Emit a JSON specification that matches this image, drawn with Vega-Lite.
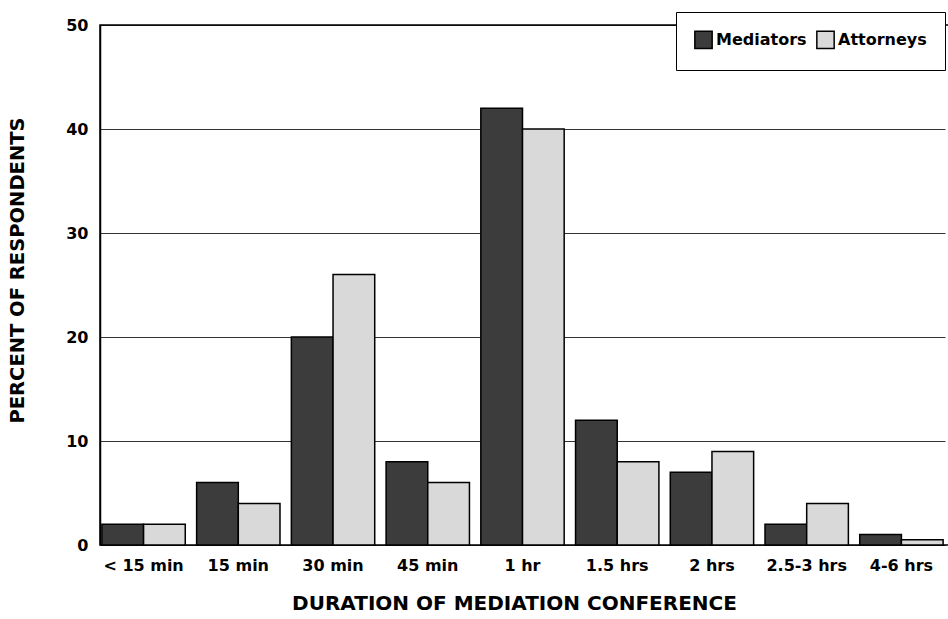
{
  "$schema": "https://vega.github.io/schema/vega-lite/v6.json",
  "width": 850,
  "height": 520,
  "autosize": {"type": "none"},
  "padding": {"left": 100, "top": 25, "right": 0, "bottom": 74},
  "background": "white",
  "config": {
    "font": "DejaVu Sans",
    "view": {"stroke": "black", "strokeWidth": 1.5},
    "axis": {"labelFont": "DejaVu Sans", "titleFont": "DejaVu Sans", "labelColor": "black", "titleColor": "black"},
    "legend": {"labelFont": "DejaVu Sans"}
  },
  "data": {
    "values": [
      {"duration": "< 15 min", "group": "Mediators", "percent": 2},
      {"duration": "< 15 min", "group": "Attorneys", "percent": 2},
      {"duration": "15 min", "group": "Mediators", "percent": 6},
      {"duration": "15 min", "group": "Attorneys", "percent": 4},
      {"duration": "30 min", "group": "Mediators", "percent": 20},
      {"duration": "30 min", "group": "Attorneys", "percent": 26},
      {"duration": "45 min", "group": "Mediators", "percent": 8},
      {"duration": "45 min", "group": "Attorneys", "percent": 6},
      {"duration": "1 hr", "group": "Mediators", "percent": 42},
      {"duration": "1 hr", "group": "Attorneys", "percent": 40},
      {"duration": "1.5 hrs", "group": "Mediators", "percent": 12},
      {"duration": "1.5 hrs", "group": "Attorneys", "percent": 8},
      {"duration": "2 hrs", "group": "Mediators", "percent": 7},
      {"duration": "2 hrs", "group": "Attorneys", "percent": 9},
      {"duration": "2.5-3 hrs", "group": "Mediators", "percent": 2},
      {"duration": "2.5-3 hrs", "group": "Attorneys", "percent": 4},
      {"duration": "4-6 hrs", "group": "Mediators", "percent": 1},
      {"duration": "4-6 hrs", "group": "Attorneys", "percent": 0.5}
    ]
  },
  "mark": {"type": "bar", "stroke": "black", "strokeWidth": 1.5},
  "encoding": {
    "x": {
      "field": "duration",
      "type": "nominal",
      "sort": ["< 15 min", "15 min", "30 min", "45 min", "1 hr", "1.5 hrs", "2 hrs", "2.5-3 hrs", "4-6 hrs"],
      "scale": {"paddingInner": 0.12, "paddingOuter": 0.02, "range": [0, 845]},
      "axis": {
        "title": "DURATION OF MEDIATION CONFERENCE",
        "titleFontSize": 20,
        "titleFontWeight": "bold",
        "titlePadding": 20,
        "titleX": 414,
        "labelAngle": 0,
        "labelFontSize": 16,
        "labelFontWeight": "bold",
        "labelPadding": 12,
        "ticks": false,
        "domain": false
      }
    },
    "xOffset": {
      "field": "group",
      "type": "nominal",
      "sort": ["Mediators", "Attorneys"],
      "scale": {"paddingInner": 0}
    },
    "y": {
      "field": "percent",
      "type": "quantitative",
      "scale": {"domain": [0, 50]},
      "axis": {
        "title": "PERCENT OF RESPONDENTS",
        "titleFontSize": 19.5,
        "titleFontWeight": "bold",
        "titlePadding": 38,
        "titleY": 245,
        "values": [0, 10, 20, 30, 40, 50],
        "labelFontSize": 16,
        "labelFontWeight": "bold",
        "labelPadding": 12,
        "ticks": false,
        "domain": true,
        "domainColor": "black",
        "domainWidth": 1.5,
        "grid": true,
        "gridColor": "black",
        "gridWidth": 1.2,
        "gridOpacity": 0.8
      }
    },
    "fill": {
      "field": "group",
      "type": "nominal",
      "sort": ["Mediators", "Attorneys"],
      "scale": {"domain": ["Mediators", "Attorneys"], "range": ["#3c3c3c", "#d9d9d9"]},
      "legend": {
        "title": null,
        "orient": "none",
        "legendX": 576,
        "legendY": -13,
        "direction": "horizontal",
        "symbolType": "square",
        "symbolSize": 300,
        "symbolStrokeColor": "black",
        "symbolStrokeWidth": 1.5,
        "labelFontSize": 16,
        "labelFontWeight": "bold",
        "labelColor": "black",
        "strokeColor": "black",
        "fillColor": "white",
        "padding": 18,
        "columnPadding": 6,
        "labelOffset": 3
      }
    }
  }
}
